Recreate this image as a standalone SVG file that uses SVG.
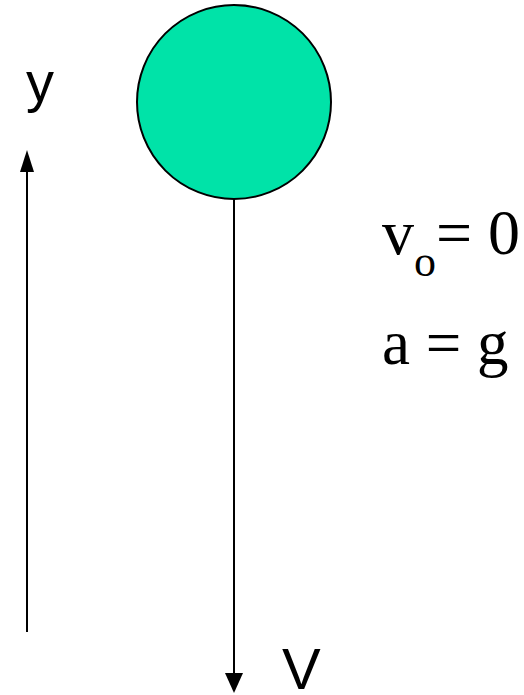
<svg xmlns="http://www.w3.org/2000/svg" width="524" height="695" viewBox="0 0 524 695">
<style>
.ax{stroke:#000;stroke-width:2;fill:none}
.hd{fill:#000}
.sans{font-family:"Liberation Sans",Arial,sans-serif;fill:#000}
.serif{font-family:"Liberation Serif","Times New Roman",serif;fill:#000}
</style>
<rect width="524" height="695" fill="#fff"/>
<g id="ball">
<circle cx="234" cy="102" r="97" fill="#00E3A8" stroke="#000" stroke-width="2"/>
</g>
<g id="connectors">
<line class="ax" x1="27" y1="632" x2="27" y2="168"/>
<polygon class="hd" points="27,150 20,172 34,172"/>
<line class="ax" x1="234" y1="199" x2="234" y2="676"/>
<polygon class="hd" points="234,693 225,673 243,673"/>
</g>
<g id="labels">
<text class="sans" x="26" y="101" font-size="56">y</text>
<text class="sans" x="282" y="689" font-size="58">V</text>
<text class="serif" x="382" y="254" font-size="64">v<tspan font-size="44" dy="22">o</tspan><tspan dy="-22">= 0</tspan></text>
<text class="serif" x="382" y="364" font-size="63">a = g</text>
</g>
</svg>
